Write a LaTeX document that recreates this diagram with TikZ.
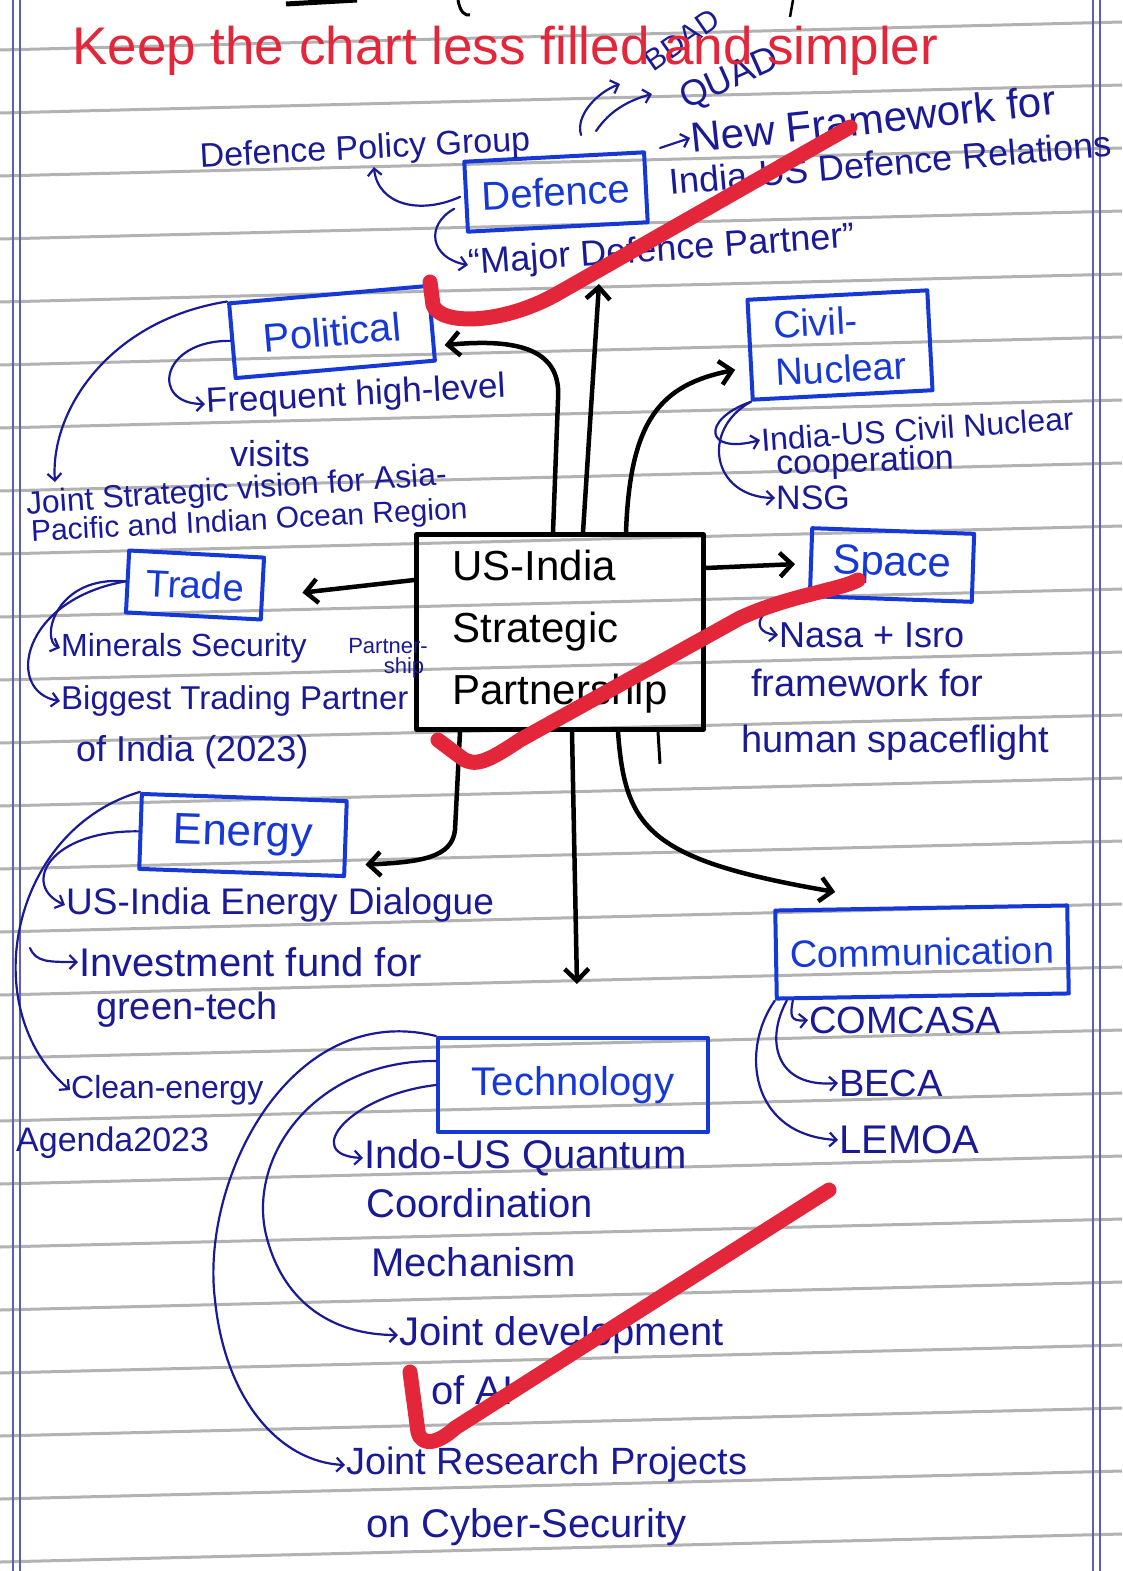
\documentclass[tikz,border=0pt]{standalone}
\usepackage{fontspec}
\setmainfont{Liberation Sans}
\usetikzlibrary{arrows.meta}
\newcommand\hwsize[1]{\fontsize{#1}{#1}\selectfont}
\definecolor{ink}{HTML}{1A1A96}
\definecolor{boxblue}{HTML}{1638D6}
\definecolor{markred}{HTML}{E3263A}
\begin{document}
\begin{tikzpicture}[x=1pt,y=-1pt,
  hw/.style={text=ink, inner sep=1pt, font=\hwsize{36}},
  bx/.style={draw=boxblue, line width=4pt, text=boxblue, inner sep=0pt, line join=round, font=\hwsize{40}},
  cbox/.style={draw=black, line width=4.5pt, text=black, line join=round},
  blk/.style={draw=black, line width=4.5pt, line cap=round, -{Straight Barb[length=12pt,width=24pt]}},
  barr/.style={draw=ink, line width=2.2pt, line cap=round, -{Straight Barb[length=7pt,width=14pt]}},
  redmark/.style={draw=markred, line width=15pt, line cap=round, line join=round},
  ruling/.style={draw=gray!60, line width=3pt},
  margin/.style={draw=ink!70, line width=1.2pt}]
\fill[white] (0,0) rectangle (1122,1571);
\useasboundingbox (0,0) rectangle (1122,1571);
% notebook ruling
\foreach \k in {0,...,24} \draw[ruling] (0,{50+63*\k}) -- (1122,{22+63*\k});
\draw[margin] (13,0) -- (13,1571);
\draw[margin] (20,0) -- (20,1571);
\draw[margin] (1093,0) -- (1093,1571);
\draw[margin] (1100,0) -- (1100,1571);
% stray marks at top
\draw[black, line width=5pt] (286,4) -- (357,0);
\draw[black, line width=3pt] (458,0) .. controls (460,12) and (465,16) .. (470,15);
\draw[black, line width=2.5pt] (793,0) -- (790,17);

% boxes
\node[bx, minimum width=180pt, minimum height=70pt, rotate=3] (def) at (556,192) {Defence};
\node[bx, minimum width=200pt, minimum height=75pt, rotate=5] (pol) at (332,332) {Political};
\node[bx, minimum width=180pt, minimum height=100pt, rotate=3, align=left, font=\hwsize{38}] (civ) at (840,345) {Civil-\\[10pt]Nuclear};
\node[cbox, minimum width=287pt, minimum height=195pt, align=left, font=\hwsize{42}] (ctr) at (560,632) {US-India\\[20pt]Strategic\\[20pt]Partnership};
\node[bx, minimum width=162pt, minimum height=68pt, rotate=-2, font=\hwsize{42}] (spc) at (892,565) {Space};
\node[bx, minimum width=135pt, minimum height=62pt, rotate=-3, font=\hwsize{38}] (trd) at (195,585) {Trade};
\node[bx, minimum width=205pt, minimum height=75pt, rotate=-2, font=\hwsize{44}] (eng) at (243,835) {Energy};
\node[bx, minimum width=270pt, minimum height=94pt] (tec) at (573,1085) {Technology};
\node[bx, minimum width=292pt, minimum height=88pt, rotate=1, font=\hwsize{38}] (com) at (922,952) {Communication};

% texts
\node[hw, font=\hwsize{30}, rotate=35] (tbdad) at (682,40) {BDAD};
\node[hw, font=\hwsize{36}, rotate=24] (tquad) at (730,80) {QUAD};
\node[hw, font=\hwsize{34}, rotate=3] (tdpg) at (365,150) {Defence Policy Group};
\node[hw, anchor=west, font=\hwsize{42}, rotate=6] (tnf) at (690,138) {New Framework for};
\node[hw, anchor=west, font=\hwsize{36}, rotate=5] (tidr) at (668,182) {India-US Defence Relations};
\node[hw, anchor=west, font=\hwsize{36}, rotate=4] (tmdp) at (468,265) {``Major Defence Partner''};
\node[hw, anchor=west, font=\hwsize{35}, rotate=3] (tfreq) at (205,404) {Frequent high-level};
\node[hw] (tvis) at (270,454) {visits};
\node[hw, anchor=west, font=\hwsize{32}, rotate=4] (tjsv) at (25,506) {Joint Strategic vision for Asia-};
\node[hw, anchor=west, font=\hwsize{30}, rotate=3] (tpac) at (30,534) {Pacific and Indian Ocean Region};
\node[hw, anchor=west, font=\hwsize{32}, rotate=4] (tinc) at (760,440) {India-US Civil Nuclear};
\node[hw, anchor=west, font=\hwsize{34}, rotate=2] (tcoop) at (775,466) {cooperation};
\node[hw, anchor=west, font=\hwsize{34}] (tnsg) at (775,498) {NSG};
\node[hw, anchor=west, font=\hwsize{36}] (tnasa) at (778,635) {Nasa + Isro};
\node[hw, anchor=west, font=\hwsize{38}] (tfw) at (750,683) {framework for};
\node[hw, anchor=west, font=\hwsize{38}] (ths) at (740,743) {human spaceflight};
\node[hw, anchor=west, font=\hwsize{32}] (tmin) at (60,648) {Minerals Security};
\node[hw, font=\hwsize{22}] (tpar) at (388,646) {Partner-};
\node[hw, font=\hwsize{22}] (tship) at (404,668) {ship};
\node[hw, anchor=west, font=\hwsize{33}] (tbig) at (60,701) {Biggest Trading Partner};
\node[hw, anchor=west, font=\hwsize{36}] (tofi) at (75,752) {of India (2023)};
\node[hw, anchor=west, font=\hwsize{37}] (tusie) at (65,905) {US-India Energy Dialogue};
\node[hw, anchor=west, font=\hwsize{40}] (tinv) at (78,962) {Investment fund for};
\node[hw, anchor=west, font=\hwsize{38}] (tgt) at (95,1010) {green-tech};
\node[hw, anchor=west, font=\hwsize{32}] (tce) at (70,1090) {Clean-energy};
\node[hw, anchor=west, font=\hwsize{34}] (tag) at (15,1143) {Agenda2023};
\node[hw, anchor=west, font=\hwsize{40}] (tiq) at (363,1158) {Indo-US Quantum};
\node[hw, anchor=west, font=\hwsize{40}] (tco) at (365,1203) {Coordination};
\node[hw, anchor=west, font=\hwsize{40}] (tme) at (370,1262) {Mechanism};
\node[hw, anchor=west, font=\hwsize{40}] (tjd) at (398,1335) {Joint development};
\node[hw, anchor=west, font=\hwsize{40}] (tai) at (430,1390) {of AI};
\node[hw, anchor=west, font=\hwsize{38}] (tjr) at (345,1465) {Joint Research Projects};
\node[hw, anchor=west, font=\hwsize{40}] (tcs) at (365,1527) {on Cyber-Security};
\node[hw, anchor=west, font=\hwsize{38}] (tcc) at (808,1020) {COMCASA};
\node[hw, anchor=west, font=\hwsize{38}] (tbc) at (838,1083) {BECA};
\node[hw, anchor=west, font=\hwsize{40}] (tlm) at (838,1140) {LEMOA};

% free ends
\coordinate (qa1) at (620,84);
\coordinate (qa2) at (652,94);
\coordinate (nfa) at (660,148);
\coordinate (jsva) at (55,482);
\coordinate (mdpa) at (599,284);
\coordinate (inva) at (30,948);

% blue arrows
\draw[barr] ([shift={(27,-20)}]def.north) .. controls (575,115) and (598,92) .. (qa1);
\draw[barr] ([shift={(42,-24)}]def.north) .. controls (610,110) and (630,100) .. (qa2);
\draw[barr] (nfa) -- (tnf.west);
\draw[barr] ([xshift=-4pt]def.west) .. controls (420,215) and (378,205) .. ([xshift=8pt]tdpg.south);
\draw[barr] ([shift={(-10,12)}]def.west) .. controls (425,225) and (430,258) .. (tmdp.west);
\draw[barr] (pol.west) .. controls (160,340) and (150,404) .. (tfreq.west);
\draw[barr] (pol.north west) .. controls (110,320) and (50,410) .. (jsva);
\draw[barr] (civ.south west) .. controls (700,420) and (705,455) .. (tinc.west);
\draw[barr] (civ.south west) .. controls (700,430) and (712,497) .. (tnsg.west);
\draw[barr] (spc.south west) .. controls (760,600) and (745,632) .. (tnasa.west);
\draw[barr] (trd.west) .. controls (55,575) and (40,640) .. (tmin.west);
\draw[barr] (trd.west) .. controls (20,600) and (5,692) .. (tbig.west);
\draw[barr] (eng.west) .. controls (50,830) and (20,885) .. (tusie.west);
\draw[barr] (eng.north west) .. controls (10,830) and (-25,1010) .. (tce.west);
\draw[barr] (inva) .. controls (36,962) and (48,962) .. (tinv.west);
\draw[barr] (tec.north west) .. controls (290,1000) and (200,1180) .. (215,1300) .. controls (225,1400) and (280,1462) .. (tjr.west);
\draw[barr] ([yshift=-25pt]tec.north west) .. controls (320,1060) and (250,1150) .. (265,1230) .. controls (280,1300) and (330,1335) .. (tjd.west);
\draw[barr] (tec.west) .. controls (350,1095) and (300,1155) .. (tiq.west);
\draw[barr] ([xshift=18pt]com.south west) .. controls (790,1015) and (790,1022) .. (tcc.west);
\draw[barr] ([xshift=12pt]com.south west) .. controls (765,1040) and (775,1088) .. (tbc.west);
\draw[barr] (com.south west) .. controls (740,1050) and (750,1135) .. (tlm.west);

% black connectors from the centre
\draw[blk] ([xshift=-7pt]ctr.north) -- (558,400) .. controls (562,350) and (520,338) .. ([shift={(11,22)}]pol.east);
\draw[blk] ([xshift=23pt]ctr.north) -- (mdpa);
\draw[blk] ([xshift=66pt]ctr.north) .. controls (630,420) and (660,385) .. ([shift={(-13,20)}]civ.west);
\draw[blk] ([yshift=64pt]ctr.east) -- ([shift={(-14,2)}]spc.west);
\draw[blk] ([yshift=52pt]ctr.west) -- ([shift={(38,4)}]trd.east);
\draw[blk] ([xshift=-100pt]ctr.south) -- (455,830) .. controls (452,858) and (420,862) .. ([shift={(18,26)}]eng.east);
\draw[blk, shorten >=52pt] ([xshift=12pt]ctr.south) -- ([xshift=5pt]tec.north);
\draw[blk] ([xshift=58pt]ctr.south) .. controls (625,830) and (650,860) .. ([shift={(-86,-14)}]com.north);
\draw[black, line width=3pt] ([xshift=98pt]ctr.south) -- ++(2,32);

% red title and check marks
\node[anchor=base west, text=markred, font=\hwsize{53}, inner sep=0pt] (title) at (72,65) {Keep the chart less filled and simpler};
\draw[redmark] (430,282) -- (433,305) .. controls (440,325) and (500,325) .. (555,295) -- (850,127);
\draw[redmark] (438,740) -- (462,758) .. controls (475,768) and (490,760) .. (520,740) -- (740,618) .. controls (790,595) and (840,590) .. (858,580);
\draw[redmark] (410,1372) -- (418,1432) .. controls (422,1448) and (440,1442) .. (455,1428) -- (829,1190);
\end{tikzpicture}
\end{document}
